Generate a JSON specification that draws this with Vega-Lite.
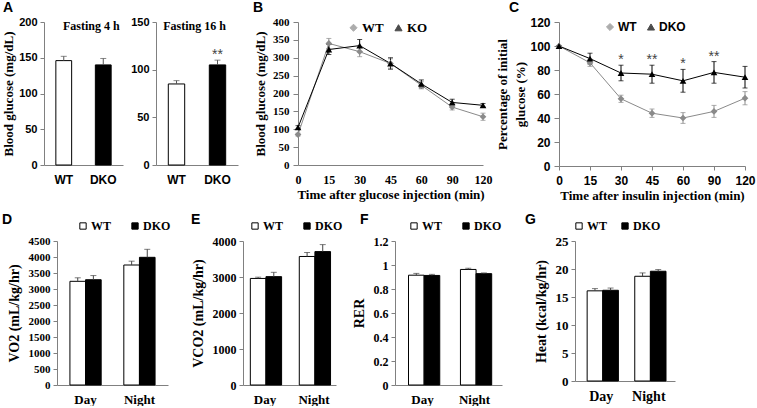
{
  "$schema": "https://vega.github.io/schema/vega-lite/v6.json",
  "background": "white",
  "padding": {"left": 0, "top": 1, "right": 0, "bottom": 0},
  "spacing": 11,
  "resolve": {"scale": {"color": "independent", "fill": "independent", "shape": "independent"}, "legend": {"color": "independent", "fill": "independent", "shape": "independent"}},
  "config": {
    "view": {"stroke": null},
    "axis": {"grid": false, "domainColor": "#808080", "tickColor": "#808080", "labelColor": "#000", "titleColor": "#000",
      "labelFont": "Liberation Serif", "labelFontWeight": "bold", "labelFontSize": 12, "labelOverlap": false,
      "titleFont": "Liberation Serif", "titleFontWeight": "bold", "titleFontSize": 13, "tickSize": 4, "labelPadding": 3},
    "title": {"font": "Liberation Sans", "fontSize": 14, "fontWeight": "bold", "color": "#000", "anchor": "start", "frame": "group", "baseline": "top"},
    "legend": {"padding": 0}
  },
  "datasets": {
    "fast4": [
      {"group": "WT", "value": 146, "hi": 152},
      {"group": "DKO", "value": 140, "hi": 149}
    ],
    "fast16": [
      {"group": "WT", "value": 85, "hi": 88.5, "sig": ""},
      {"group": "DKO", "value": 105, "hi": 110, "sig": "**"}
    ],
    "gtt": [
      {"t": 0, "grp": "WT", "v": 85, "lo": 81, "hi": 89},
      {"t": 15, "grp": "WT", "v": 340, "lo": 326, "hi": 354},
      {"t": 30, "grp": "WT", "v": 317, "lo": 303, "hi": 331},
      {"t": 45, "grp": "WT", "v": 284, "lo": 271, "hi": 297},
      {"t": 60, "grp": "WT", "v": 223, "lo": 213, "hi": 233},
      {"t": 90, "grp": "WT", "v": 162, "lo": 154, "hi": 170},
      {"t": 120, "grp": "WT", "v": 135, "lo": 125, "hi": 145},
      {"t": 0, "grp": "KO", "v": 105, "lo": 100, "hi": 110},
      {"t": 15, "grp": "KO", "v": 323, "lo": 309, "hi": 337},
      {"t": 30, "grp": "KO", "v": 334, "lo": 317, "hi": 351},
      {"t": 45, "grp": "KO", "v": 284, "lo": 268, "hi": 300},
      {"t": 60, "grp": "KO", "v": 227, "lo": 216, "hi": 238},
      {"t": 90, "grp": "KO", "v": 175, "lo": 166, "hi": 184},
      {"t": 120, "grp": "KO", "v": 167, "lo": 162, "hi": 172}
    ],
    "itt": [
      {"t": 0, "grp": "WT", "v": 100, "lo": 100, "hi": 100, "sig": ""},
      {"t": 15, "grp": "WT", "v": 86, "lo": 83, "hi": 89, "sig": ""},
      {"t": 30, "grp": "WT", "v": 56, "lo": 53, "hi": 59, "sig": ""},
      {"t": 45, "grp": "WT", "v": 44, "lo": 40.5, "hi": 47.5, "sig": ""},
      {"t": 60, "grp": "WT", "v": 40, "lo": 35.5, "hi": 44.5, "sig": ""},
      {"t": 90, "grp": "WT", "v": 45.5, "lo": 40.5, "hi": 50.5, "sig": ""},
      {"t": 120, "grp": "WT", "v": 56.5, "lo": 51, "hi": 62, "sig": ""},
      {"t": 0, "grp": "DKO", "v": 100, "lo": 100, "hi": 100, "sig": ""},
      {"t": 15, "grp": "DKO", "v": 89.5, "lo": 85, "hi": 94, "sig": ""},
      {"t": 30, "grp": "DKO", "v": 77.5, "lo": 71, "hi": 84, "sig": "*"},
      {"t": 45, "grp": "DKO", "v": 76.5, "lo": 69, "hi": 84, "sig": "**"},
      {"t": 60, "grp": "DKO", "v": 71, "lo": 61.5, "hi": 80.5, "sig": "*"},
      {"t": 90, "grp": "DKO", "v": 78, "lo": 69, "hi": 87, "sig": "**"},
      {"t": 120, "grp": "DKO", "v": 74, "lo": 65, "hi": 83, "sig": ""}
    ],
    "vo2": [
      {"period": "Day", "group": "WT", "value": 3240, "hi": 3350},
      {"period": "Day", "group": "DKO", "value": 3290, "hi": 3420},
      {"period": "Night", "group": "WT", "value": 3750, "hi": 3870},
      {"period": "Night", "group": "DKO", "value": 3990, "hi": 4240}
    ],
    "vco2": [
      {"period": "Day", "group": "WT", "value": 2960, "hi": 2995},
      {"period": "Day", "group": "DKO", "value": 3010, "hi": 3130},
      {"period": "Night", "group": "WT", "value": 3570, "hi": 3680},
      {"period": "Night", "group": "DKO", "value": 3705, "hi": 3900}
    ],
    "rer": [
      {"period": "Day", "group": "WT", "value": 0.915, "hi": 0.93},
      {"period": "Day", "group": "DKO", "value": 0.913, "hi": 0.922},
      {"period": "Night", "group": "WT", "value": 0.963, "hi": 0.973},
      {"period": "Night", "group": "DKO", "value": 0.928, "hi": 0.934}
    ],
    "heat": [
      {"period": "Day", "group": "WT", "value": 16.1, "hi": 16.5},
      {"period": "Day", "group": "DKO", "value": 16.2, "hi": 16.6},
      {"period": "Night", "group": "WT", "value": 18.7, "hi": 19.3},
      {"period": "Night", "group": "DKO", "value": 19.6, "hi": 19.9}
    ]
  },
  "vconcat": [
    {
      "bounds": "flush",
      "spacing": 0,
      "resolve": {"scale": {"color": "independent", "fill": "independent", "shape": "independent"}, "legend": {"color": "independent", "fill": "independent", "shape": "independent"}},
      "hconcat": [
        {"width": 44, "height": 143, "data": {"values": []}, "mark": "point", "encoding": {}},
        {
          "width": 79, "height": 143,
          "title": {"text": "A", "dx": -41, "offset": 1},
          "data": {"name": "fast4"},
          "layer": [
            {"mark": {"type": "bar", "stroke": "#000", "strokeWidth": 1},
              "encoding": {
                "x": {"field": "group", "type": "nominal", "sort": ["WT", "DKO"], "scale": {"paddingInner": 0.6, "paddingOuter": 0.3},
                  "axis": {"title": null, "labelAngle": 0, "ticks": false, "tickSize": 0, "labelPadding": 9, "labelFont": "Liberation Sans", "labelFontSize": 12}},
                "y": {"field": "value", "type": "quantitative", "title": "Blood glucose (mg/dL)", "scale": {"domain": [0, 200], "nice": false},
                  "axis": {"values": [0, 50, 100, 150, 200], "tickCount": 20, "labelOverlap": false, "labelFont": "Liberation Sans", "labelFontSize": 11, "titlePadding": 3}},
                "fill": {"field": "group", "type": "nominal", "scale": {"domain": ["WT", "DKO"], "range": ["#ffffff", "#000000"]}, "legend": null}
              }},
            {"mark": {"type": "rule", "color": "#555"},
              "encoding": {
                "x": {"field": "group", "type": "nominal", "sort": ["WT", "DKO"]},
                "y": {"field": "value", "type": "quantitative", "title": "Blood glucose (mg/dL)"},
                "y2": {"field": "hi"}
              }},
            {"mark": {"type": "tick", "color": "#555", "size": 6, "thickness": 1},
              "encoding": {
                "x": {"field": "group", "type": "nominal", "sort": ["WT", "DKO"]},
                "y": {"field": "hi", "type": "quantitative", "title": "Blood glucose (mg/dL)"}
              }},
            {"data": {"values": [{"label": "Fasting 4 h"}]},
              "mark": {"type": "text", "font": "Liberation Serif", "fontWeight": "bold", "fontSize": 12, "baseline": "top", "dy": -1, "dx": -12, "color": "#000"},
              "encoding": {"x": {"datum": "DKO"}, "y": {"datum": 200}, "text": {"field": "label"}}}
          ]
        },
        {"width": 33, "height": 143, "data": {"values": []}, "mark": "point", "encoding": {}},
        {
          "width": 82, "height": 143,
          "data": {"name": "fast16"},
          "layer": [
            {"mark": {"type": "bar", "stroke": "#000", "strokeWidth": 1},
              "encoding": {
                "x": {"field": "group", "type": "nominal", "sort": ["WT", "DKO"], "scale": {"paddingInner": 0.6, "paddingOuter": 0.3},
                  "axis": {"title": null, "labelAngle": 0, "ticks": false, "tickSize": 0, "labelPadding": 9, "labelFont": "Liberation Sans", "labelFontSize": 12}},
                "y": {"field": "value", "type": "quantitative", "title": null, "scale": {"domain": [0, 150], "nice": false},
                  "axis": {"values": [0, 50, 100, 150], "tickCount": 20, "labelOverlap": false, "labelFont": "Liberation Sans", "labelFontSize": 11}},
                "fill": {"field": "group", "type": "nominal", "scale": {"domain": ["WT", "DKO"], "range": ["#ffffff", "#000000"]}, "legend": null}
              }},
            {"mark": {"type": "rule", "color": "#555"},
              "encoding": {
                "x": {"field": "group", "type": "nominal", "sort": ["WT", "DKO"]},
                "y": {"field": "value", "type": "quantitative", "title": null},
                "y2": {"field": "hi"}
              }},
            {"mark": {"type": "tick", "color": "#555", "size": 6, "thickness": 1},
              "encoding": {
                "x": {"field": "group", "type": "nominal", "sort": ["WT", "DKO"]},
                "y": {"field": "hi", "type": "quantitative", "title": null}
              }},
            {"mark": {"type": "text", "font": "Liberation Sans", "fontSize": 14, "baseline": "alphabetic", "dy": -1, "color": "#444"},
              "encoding": {
                "x": {"field": "group", "type": "nominal", "sort": ["WT", "DKO"]},
                "y": {"field": "hi", "type": "quantitative", "title": null},
                "text": {"field": "sig"}
              }},
            {"data": {"values": [{"label": "Fasting 16 h"}]},
              "mark": {"type": "text", "font": "Liberation Serif", "fontWeight": "bold", "fontSize": 12, "baseline": "top", "dy": -1, "dx": -23, "color": "#000"},
              "encoding": {"x": {"datum": "DKO"}, "y": {"datum": 150}, "text": {"field": "label"}}}
          ]
        },
        {"width": 60, "height": 143, "data": {"values": []}, "mark": "point", "encoding": {}},
        {
          "width": 185, "height": 143,
          "title": {"text": "B", "dx": -45, "offset": 1},
          "data": {"name": "gtt"},
          "encoding": {
            "x": {"field": "t", "type": "ordinal", "scale": {"type": "point", "padding": 0},
              "axis": {"title": "Time after glucose injection (min)", "labelAngle": 0, "ticks": false, "tickSize": 0, "labelPadding": 9, "titlePadding": 3, "titleFontSize": 13}}
          },
          "layer": [
            {"mark": {"type": "line", "strokeWidth": 1},
              "encoding": {"y": {"field": "v", "type": "quantitative", "title": "Blood glucose (mg/dL)", "scale": {"domain": [0, 400], "nice": false},
                "axis": {"values": [0, 50, 100, 150, 200, 250, 300, 350, 400], "tickCount": 20, "labelOverlap": false, "labelFontSize": 11, "tickSize": 5, "labelPadding": 4, "titlePadding": 5}},
                "color": {"field": "grp", "type": "nominal", "scale": {"domain": ["WT", "KO"], "range": ["#8a8a8a", "#000000"]},
                  "legend": {"orient": "none", "legendX": 49, "legendY": -1, "direction": "horizontal", "title": null,
                    "labelFont": "Liberation Serif", "labelFontWeight": "bold", "labelFontSize": 13, "labelColor": "#000",
                    "symbolSize": 50, "symbolStrokeWidth": 1, "symbolOpacity": 1, "labelOffset": 2, "columnPadding": 8}}}},
            {"mark": {"type": "rule", "strokeWidth": 1},
              "encoding": {"y": {"field": "lo", "type": "quantitative", "title": "Blood glucose (mg/dL)"}, "y2": {"field": "hi"},
                "color": {"field": "grp", "type": "nominal"}}},
            {"mark": {"type": "tick", "size": 5, "thickness": 1},
              "encoding": {"y": {"field": "lo", "type": "quantitative", "title": "Blood glucose (mg/dL)"}, "color": {"field": "grp", "type": "nominal"}}},
            {"mark": {"type": "tick", "size": 5, "thickness": 1},
              "encoding": {"y": {"field": "hi", "type": "quantitative", "title": "Blood glucose (mg/dL)"}, "color": {"field": "grp", "type": "nominal"}}},
            {"mark": {"type": "point", "filled": true, "size": 45, "opacity": 1},
              "encoding": {"y": {"field": "v", "type": "quantitative", "title": "Blood glucose (mg/dL)"},
                "color": {"field": "grp", "type": "nominal"},
                "shape": {"field": "grp", "type": "nominal", "scale": {"domain": ["WT", "KO"], "range": ["diamond", "triangle-up"]}, "legend": null}}}
          ]
        },
        {"width": 76, "height": 143, "data": {"values": []}, "mark": "point", "encoding": {}},
        {
          "width": 186, "height": 144,
          "title": {"text": "C", "dx": -50, "offset": 1},
          "data": {"name": "itt"},
          "encoding": {
            "x": {"field": "t", "type": "ordinal", "scale": {"type": "point", "padding": 0},
              "axis": {"title": "Time after insulin injection (min)", "labelAngle": 0, "tickSize": 4, "labelPadding": 5, "titlePadding": 3,
                "labelFont": "Liberation Sans", "labelFontSize": 12, "titleFontSize": 13}}
          },
          "layer": [
            {"mark": {"type": "line", "strokeWidth": 1},
              "encoding": {"y": {"field": "v", "type": "quantitative", "title": ["Percentage of initial", "glucose (%)"], "scale": {"domain": [0, 120], "nice": false},
                "axis": {"values": [0, 20, 40, 60, 80, 100, 120], "tickCount": 20, "labelOverlap": false, "tickSize": 5, "labelPadding": 4, "titlePadding": 2, "titleLineHeight": 18,
                  "labelFont": "Liberation Sans", "labelFontSize": 12}},
                "color": {"field": "grp", "type": "nominal", "scale": {"domain": ["WT", "DKO"], "range": ["#8a8a8a", "#000000"]},
                  "legend": {"orient": "none", "legendX": 45, "legendY": -1, "direction": "horizontal", "title": null,
                    "labelFont": "Liberation Sans", "labelFontWeight": "bold", "labelFontSize": 12, "labelColor": "#000",
                    "symbolSize": 50, "symbolStrokeWidth": 1, "symbolOpacity": 1, "labelOffset": 2, "columnPadding": 8}}}},
            {"mark": {"type": "rule", "strokeWidth": 1},
              "encoding": {"y": {"field": "lo", "type": "quantitative", "title": ["Percentage of initial", "glucose (%)"]}, "y2": {"field": "hi"},
                "color": {"field": "grp", "type": "nominal"}}},
            {"mark": {"type": "tick", "size": 5, "thickness": 1},
              "encoding": {"y": {"field": "lo", "type": "quantitative", "title": ["Percentage of initial", "glucose (%)"]}, "color": {"field": "grp", "type": "nominal"}}},
            {"mark": {"type": "tick", "size": 5, "thickness": 1},
              "encoding": {"y": {"field": "hi", "type": "quantitative", "title": ["Percentage of initial", "glucose (%)"]}, "color": {"field": "grp", "type": "nominal"}}},
            {"mark": {"type": "point", "filled": true, "size": 45, "opacity": 1},
              "encoding": {"y": {"field": "v", "type": "quantitative", "title": ["Percentage of initial", "glucose (%)"]},
                "color": {"field": "grp", "type": "nominal"},
                "shape": {"field": "grp", "type": "nominal", "scale": {"domain": ["WT", "DKO"], "range": ["diamond", "triangle-up"]}, "legend": null}}},
            {"mark": {"type": "text", "font": "Liberation Sans", "fontSize": 14, "baseline": "alphabetic", "dy": -1, "color": "#444"},
              "encoding": {"y": {"field": "hi", "type": "quantitative", "title": ["Percentage of initial", "glucose (%)"]}, "text": {"field": "sig"}}}
          ]
        }
      ]
    },
    {
      "bounds": "flush",
      "spacing": 0,
      "resolve": {"scale": {"fill": "independent"}, "legend": {"fill": "independent"}},
      "hconcat": [
        {"width": 57, "height": 144, "data": {"values": []}, "mark": "point", "encoding": {}},
        {
          "width": 111, "height": 144,
          "title": {"text": "D", "dx": -55, "offset": -7},
          "data": {"name": "vo2"},
          "encoding": {
            "x": {"field": "period", "type": "nominal", "sort": ["Day", "Night"], "scale": {"paddingInner": 0.42, "paddingOuter": 0.24},
              "axis": {"title": null, "labelAngle": 0, "ticks": false, "tickSize": 0, "labelPadding": 8, "labelFontSize": 13}},
            "xOffset": {"field": "group", "type": "nominal", "sort": ["WT", "DKO"], "scale": {"paddingInner": 0, "paddingOuter": 0}}
          },
          "layer": [
            {"mark": {"type": "bar", "stroke": "#000", "strokeWidth": 1},
              "encoding": {
                "y": {"field": "value", "type": "quantitative", "title": "VO2 (mL/kg/hr)", "scale": {"domain": [0, 4500], "nice": false},
                  "axis": {"values": [0, 500, 1000, 1500, 2000, 2500, 3000, 3500, 4000, 4500], "tickCount": 20, "labelOverlap": false, "format": "d", "labelFontSize": 11, "titleFontSize": 14, "titlePadding": 7}},
                "fill": {"field": "group", "type": "nominal", "scale": {"domain": ["WT", "DKO"], "range": ["#ffffff", "#000000"]},
                  "legend": {"orient": "none", "legendX": 20, "legendY": -21, "direction": "horizontal", "title": null, "symbolType": "square", "symbolSize": 40,
                    "symbolStrokeColor": "#000", "symbolStrokeWidth": 1, "labelFont": "Liberation Serif", "labelFontWeight": "bold", "labelFontSize": 12, "labelColor": "#000",
                    "labelOffset": 2, "columnPadding": 17}}
              }},
            {"mark": {"type": "rule", "color": "#444"},
              "encoding": {"y": {"field": "value", "type": "quantitative", "title": "VO2 (mL/kg/hr)"}, "y2": {"field": "hi"}}},
            {"mark": {"type": "tick", "color": "#444", "size": 6, "thickness": 1},
              "encoding": {"y": {"field": "hi", "type": "quantitative", "title": "VO2 (mL/kg/hr)"}}}
          ]
        },
        {"width": 75, "height": 144, "data": {"values": []}, "mark": "point", "encoding": {}},
        {
          "width": 93, "height": 144,
          "title": {"text": "E", "dx": -52, "offset": -7},
          "data": {"name": "vco2"},
          "encoding": {
            "x": {"field": "period", "type": "nominal", "sort": ["Day", "Night"], "scale": {"paddingInner": 0.4, "paddingOuter": 0.15},
              "axis": {"title": null, "labelAngle": 0, "ticks": false, "tickSize": 0, "labelPadding": 8, "labelFontSize": 13}},
            "xOffset": {"field": "group", "type": "nominal", "sort": ["WT", "DKO"], "scale": {"paddingInner": 0, "paddingOuter": 0}}
          },
          "layer": [
            {"mark": {"type": "bar", "stroke": "#000", "strokeWidth": 1},
              "encoding": {
                "y": {"field": "value", "type": "quantitative", "title": "VCO2 (mL/kg/hr)", "scale": {"domain": [0, 4000], "nice": false},
                  "axis": {"values": [0, 1000, 2000, 3000, 4000], "tickCount": 20, "labelOverlap": false, "format": "d", "labelFontSize": 12, "titleFontSize": 14, "titlePadding": 7}},
                "fill": {"field": "group", "type": "nominal", "scale": {"domain": ["WT", "DKO"], "range": ["#ffffff", "#000000"]},
                  "legend": {"orient": "none", "legendX": 6, "legendY": -21, "direction": "horizontal", "title": null, "symbolType": "square", "symbolSize": 40,
                    "symbolStrokeColor": "#000", "symbolStrokeWidth": 1, "labelFont": "Liberation Serif", "labelFontWeight": "bold", "labelFontSize": 12, "labelColor": "#000",
                    "labelOffset": 2, "columnPadding": 17}}
              }},
            {"mark": {"type": "rule", "color": "#444"},
              "encoding": {"y": {"field": "value", "type": "quantitative", "title": "VCO2 (mL/kg/hr)"}, "y2": {"field": "hi"}}},
            {"mark": {"type": "tick", "color": "#444", "size": 6, "thickness": 1},
              "encoding": {"y": {"field": "hi", "type": "quantitative", "title": "VCO2 (mL/kg/hr)"}}}
          ]
        },
        {"width": 59, "height": 144, "data": {"values": []}, "mark": "point", "encoding": {}},
        {
          "width": 107, "height": 144,
          "title": {"text": "F", "dx": -35, "offset": -7},
          "data": {"name": "rer"},
          "encoding": {
            "x": {"field": "period", "type": "nominal", "sort": ["Day", "Night"], "scale": {"paddingInner": 0.46, "paddingOuter": 0.26},
              "axis": {"title": null, "labelAngle": 0, "ticks": false, "tickSize": 0, "labelPadding": 8, "labelFontSize": 13}},
            "xOffset": {"field": "group", "type": "nominal", "sort": ["WT", "DKO"], "scale": {"paddingInner": 0, "paddingOuter": 0}}
          },
          "layer": [
            {"mark": {"type": "bar", "stroke": "#000", "strokeWidth": 1},
              "encoding": {
                "y": {"field": "value", "type": "quantitative", "title": "RER", "scale": {"domain": [0, 1.2], "nice": false},
                  "axis": {"values": [0, 0.2, 0.4, 0.6, 0.8, 1, 1.2], "tickCount": 20, "labelOverlap": false, "format": "~g", "labelFontSize": 12, "titleFontSize": 14, "titlePadding": 7}},
                "fill": {"field": "group", "type": "nominal", "scale": {"domain": ["WT", "DKO"], "range": ["#ffffff", "#000000"]},
                  "legend": {"orient": "none", "legendX": 13, "legendY": -21, "direction": "horizontal", "title": null, "symbolType": "square", "symbolSize": 40,
                    "symbolStrokeColor": "#000", "symbolStrokeWidth": 1, "labelFont": "Liberation Serif", "labelFontWeight": "bold", "labelFontSize": 12, "labelColor": "#000",
                    "labelOffset": 2, "columnPadding": 17}}
              }},
            {"mark": {"type": "rule", "color": "#444"},
              "encoding": {"y": {"field": "value", "type": "quantitative", "title": "RER"}, "y2": {"field": "hi"}}},
            {"mark": {"type": "tick", "color": "#444", "size": 6, "thickness": 1},
              "encoding": {"y": {"field": "hi", "type": "quantitative", "title": "RER"}}}
          ]
        },
        {"width": 73, "height": 144, "data": {"values": []}, "mark": "point", "encoding": {}},
        {
          "width": 100, "height": 140,
          "title": {"text": "G", "dx": -50, "offset": -7},
          "data": {"name": "heat"},
          "encoding": {
            "x": {"field": "period", "type": "nominal", "sort": ["Day", "Night"], "scale": {"paddingInner": 0.41, "paddingOuter": 0.255},
              "axis": {"title": null, "labelAngle": 0, "ticks": false, "tickSize": 0, "labelPadding": 8, "labelFontSize": 14}},
            "xOffset": {"field": "group", "type": "nominal", "sort": ["WT", "DKO"], "scale": {"paddingInner": 0, "paddingOuter": 0}}
          },
          "layer": [
            {"mark": {"type": "bar", "stroke": "#000", "strokeWidth": 1},
              "encoding": {
                "y": {"field": "value", "type": "quantitative", "title": "Heat (kcal/kg/hr)", "scale": {"domain": [0, 25], "nice": false},
                  "axis": {"values": [0, 5, 10, 15, 20, 25], "tickCount": 20, "labelOverlap": false, "labelFontSize": 13, "titleFontSize": 14, "titlePadding": 7}},
                "fill": {"field": "group", "type": "nominal", "scale": {"domain": ["WT", "DKO"], "range": ["#ffffff", "#000000"]},
                  "legend": {"orient": "none", "legendX": -2, "legendY": -21, "direction": "horizontal", "title": null, "symbolType": "square", "symbolSize": 40,
                    "symbolStrokeColor": "#000", "symbolStrokeWidth": 1, "labelFont": "Liberation Serif", "labelFontWeight": "bold", "labelFontSize": 12, "labelColor": "#000",
                    "labelOffset": 2, "columnPadding": 11}}
              }},
            {"mark": {"type": "rule", "color": "#444"},
              "encoding": {"y": {"field": "value", "type": "quantitative", "title": "Heat (kcal/kg/hr)"}, "y2": {"field": "hi"}}},
            {"mark": {"type": "tick", "color": "#444", "size": 6, "thickness": 1},
              "encoding": {"y": {"field": "hi", "type": "quantitative", "title": "Heat (kcal/kg/hr)"}}}
          ]
        }
      ]
    }
  ]
}
